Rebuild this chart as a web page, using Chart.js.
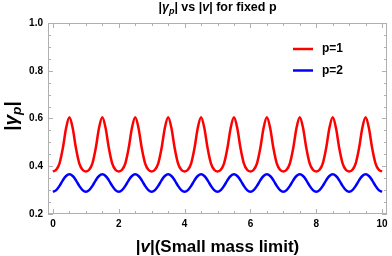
<!DOCTYPE html>
<html>
<head>
<meta charset="utf-8">
<script src="https://cdn.jsdelivr.net/npm/chart.js@4/dist/chart.umd.min.js"></script>
<style>
  body { margin: 0; background: #fff; }
</style>
</head>
<body>
<canvas id="myChart" width="392" height="256"></canvas>
<script>
// |v| sample points
let vValues = [
  0.0, 0.1, 0.2, 0.3, 0.4, 0.5, 0.6, 0.7, 0.8, 0.9,
  1.0, 1.1, 1.2, 1.3, 1.4, 1.5, 1.6, 1.7, 1.8, 1.9,
  2.0, 2.1, 2.2, 2.3, 2.4, 2.5, 2.6, 2.7, 2.8, 2.9,
  3.0, 3.1, 3.2, 3.3, 3.4, 3.5, 3.6, 3.7, 3.8, 3.9,
  4.0, 4.1, 4.2, 4.3, 4.4, 4.5, 4.6, 4.7, 4.8, 4.9,
  5.0, 5.1, 5.2, 5.3, 5.4, 5.5, 5.6, 5.7, 5.8, 5.9,
  6.0, 6.1, 6.2, 6.3, 6.4, 6.5, 6.6, 6.7, 6.8, 6.9,
  7.0, 7.1, 7.2, 7.3, 7.4, 7.5, 7.6, 7.7, 7.8, 7.9,
  8.0, 8.1, 8.2, 8.3, 8.4, 8.5, 8.6, 8.7, 8.8, 8.9,
  9.0, 9.1, 9.2, 9.3, 9.4, 9.5, 9.6, 9.7, 9.8, 9.9,
  10.0
];

// |gamma_p| for p=1
let gammaP1 = [
  0.378, 0.385, 0.412, 0.475, 0.560, 0.605, 0.560, 0.475, 0.412, 0.385,
  0.378, 0.385, 0.412, 0.475, 0.560, 0.605, 0.560, 0.475, 0.412, 0.385,
  0.378, 0.385, 0.412, 0.475, 0.560, 0.605, 0.560, 0.475, 0.412, 0.385,
  0.378, 0.385, 0.412, 0.475, 0.560, 0.605, 0.560, 0.475, 0.412, 0.385,
  0.378, 0.385, 0.412, 0.475, 0.560, 0.605, 0.560, 0.475, 0.412, 0.385,
  0.378, 0.385, 0.412, 0.475, 0.560, 0.605, 0.560, 0.475, 0.412, 0.385,
  0.378, 0.385, 0.412, 0.475, 0.560, 0.605, 0.560, 0.475, 0.412, 0.385,
  0.378, 0.385, 0.412, 0.475, 0.560, 0.605, 0.560, 0.475, 0.412, 0.385,
  0.378, 0.385, 0.412, 0.475, 0.560, 0.605, 0.560, 0.475, 0.412, 0.385,
  0.378, 0.385, 0.412, 0.475, 0.560, 0.605, 0.560, 0.475, 0.412, 0.385,
  0.378
];

// |gamma_p| for p=2
let gammaP2 = [
  0.293, 0.300, 0.318, 0.341, 0.359, 0.366, 0.359, 0.341, 0.318, 0.300,
  0.293, 0.300, 0.318, 0.341, 0.359, 0.366, 0.359, 0.341, 0.318, 0.300,
  0.293, 0.300, 0.318, 0.341, 0.359, 0.366, 0.359, 0.341, 0.318, 0.300,
  0.293, 0.300, 0.318, 0.341, 0.359, 0.366, 0.359, 0.341, 0.318, 0.300,
  0.293, 0.300, 0.318, 0.341, 0.359, 0.366, 0.359, 0.341, 0.318, 0.300,
  0.293, 0.300, 0.318, 0.341, 0.359, 0.366, 0.359, 0.341, 0.318, 0.300,
  0.293, 0.300, 0.318, 0.341, 0.359, 0.366, 0.359, 0.341, 0.318, 0.300,
  0.293, 0.300, 0.318, 0.341, 0.359, 0.366, 0.359, 0.341, 0.318, 0.300,
  0.293, 0.300, 0.318, 0.341, 0.359, 0.366, 0.359, 0.341, 0.318, 0.300,
  0.293, 0.300, 0.318, 0.341, 0.359, 0.366, 0.359, 0.341, 0.318, 0.300,
  0.293
];

let seriesLabels = ['p=1', 'p=2'];
let seriesColors = ['#ff0000', '#0000ff'];
let xTicks = [0, 2, 4, 6, 8, 10];
let yTicks = [0.2, 0.4, 0.6, 0.8, 1.0];

const FONT = '"Liberation Sans", Arial, sans-serif';

function partFont(p, size) {
  let s = p.sub ? size * 0.72 : size;
  return (p.it ? 'italic ' : '') + 'bold ' + s + 'px ' + FONT;
}

// draws a line of text made of pieces (italic / subscript), centered on x
function drawParts(ctx, parts, x, y, size) {
  let w = 0;
  parts.forEach(p => { ctx.font = partFont(p, size); w += ctx.measureText(p.t).width; });
  let cx = x - w / 2;
  ctx.textAlign = 'left';
  ctx.textBaseline = 'middle';
  parts.forEach(p => {
    ctx.font = partFont(p, size);
    ctx.fillText(p.t, cx, y + (p.sub ? size * 0.3 : 0));
    cx += ctx.measureText(p.t).width;
  });
}

const frame = {
  id: 'frame',
  beforeDatasetsDraw(chart) {
    const ctx = chart.ctx, a = chart.chartArea;
    const xs = chart.scales.x, ys = chart.scales.y;
    ctx.save();
    ctx.strokeStyle = '#b0b0b0';
    ctx.lineWidth = 1;
    ctx.strokeRect(a.left + 0.5, a.top + 0.5, a.right - a.left - 1, a.bottom - a.top - 1);
    ctx.beginPath();
    for (let v = 0; v <= 10.001; v += 0.5) {
      let px = Math.round(xs.getPixelForValue(v)) + 0.5;
      let len = (Math.abs(v / 2 - Math.round(v / 2)) < 0.01) ? 5 : 3;
      ctx.moveTo(px, a.bottom); ctx.lineTo(px, a.bottom - len);
      ctx.moveTo(px, a.top); ctx.lineTo(px, a.top + len);
    }
    for (let i = 0; i <= 16; i++) {
      let v = 0.2 + i * 0.05;
      let py = Math.round(ys.getPixelForValue(v)) + 0.5;
      let len = (i % 4 === 0) ? 5 : 3;
      ctx.moveTo(a.left, py); ctx.lineTo(a.left + len, py);
      ctx.moveTo(a.right, py); ctx.lineTo(a.right - len, py);
    }
    ctx.stroke();
    ctx.restore();
  },
  afterDraw(chart) {
    const ctx = chart.ctx, a = chart.chartArea;
    const midX = (a.left + a.right) / 2;
    ctx.save();
    ctx.fillStyle = '#000';

    // title
    drawParts(ctx, [
      { t: '|' }, { t: 'γ', it: true }, { t: 'p', it: true, sub: true },
      { t: '| vs |' }, { t: 'v', it: true }, { t: '| for fixed p' }
    ], midX, 8, 12.5);

    // x axis title
    drawParts(ctx, [
      { t: '|' }, { t: 'v', it: true }, { t: '|(Small mass limit)' }
    ], midX, 247, 17);

    // y axis title
    ctx.save();
    ctx.translate(12, 116);
    ctx.rotate(-Math.PI / 2);
    drawParts(ctx, [
      { t: '|' }, { t: 'γ', it: true }, { t: 'p', it: true, sub: true }, { t: '|' }
    ], 0, 0, 19);
    ctx.restore();

    // legend
    seriesLabels.forEach((lab, i) => {
      let y = 49 + i * 21.5;
      ctx.strokeStyle = seriesColors[i];
      ctx.lineWidth = 2.5;
      ctx.beginPath();
      ctx.moveTo(293, y); ctx.lineTo(313, y);
      ctx.stroke();
      ctx.font = 'bold 12px ' + FONT;
      ctx.textAlign = 'left';
      ctx.textBaseline = 'middle';
      ctx.fillText(lab, 322, y);
    });
    ctx.restore();
  }
};

let ctx = document.getElementById('myChart').getContext('2d');

let myChart = new Chart(ctx, {
  type: 'line',
  data: {
    datasets: [gammaP1, gammaP2].map((arr, i) => ({
      label: seriesLabels[i],
      data: vValues.map((v, j) => ({ x: v, y: arr[j] })),
      borderColor: seriesColors[i],
      borderWidth: 2.5,
      pointRadius: 0,
      fill: false,
      cubicInterpolationMode: 'monotone'
    }))
  },
  options: {
    responsive: false,
    animation: false,
    devicePixelRatio: 1,
    layout: { padding: { left: 0, right: 5, top: 23, bottom: 0 } },
    plugins: {
      legend: { display: false },
      tooltip: { enabled: false }
    },
    scales: {
      x: {
        type: 'linear',
        min: -0.15,
        max: 10.15,
        grid: { display: false, drawTicks: false },
        border: { display: false },
        afterBuildTicks: (s) => { s.ticks = xTicks.map(v => ({ value: v })); },
        afterFit: (s) => { s.height = 42; },
        ticks: {
          color: '#000',
          padding: 4,
          maxRotation: 0,
          font: { family: FONT, size: 10, weight: 'bold' }
        }
      },
      y: {
        min: 0.2,
        max: 1.0,
        grid: { display: false, drawTicks: false },
        border: { display: false },
        afterBuildTicks: (s) => { s.ticks = yTicks.map(v => ({ value: v })); },
        afterFit: (s) => { s.width = 48; },
        ticks: {
          color: '#000',
          padding: 5,
          font: { family: FONT, size: 10, weight: 'bold' },
          callback: (v) => Number(v).toFixed(1)
        }
      }
    }
  },
  plugins: [frame]
});
</script>
</body>
</html>
